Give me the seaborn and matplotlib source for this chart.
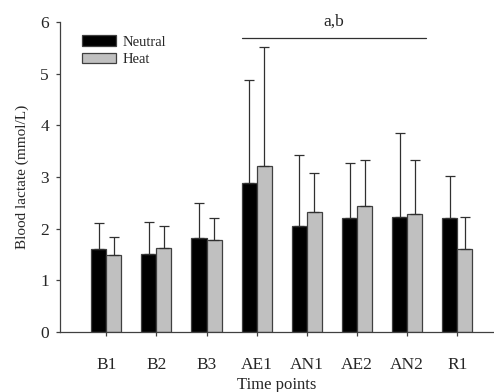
import warnings
warnings.filterwarnings("ignore")
import numpy as np
import pandas as pd
import seaborn as sns
import matplotlib
matplotlib.use("Agg")
import matplotlib.pyplot as plt
from matplotlib.patches import Patch

time_points = ['B1', 'B2', 'B3', 'AE1', 'AN1', 'AE2', 'AN2', 'R1']
neutral_mean = [1.61, 1.51, 1.81, 2.88, 2.06, 2.20, 2.22, 2.20]
neutral_sd = [0.50, 0.61, 0.68, 2.00, 1.37, 1.07, 1.63, 0.82]
heat_mean = [1.49, 1.62, 1.79, 3.22, 2.33, 2.43, 2.28, 1.61]
heat_sd = [0.34, 0.43, 0.41, 2.30, 0.75, 0.90, 1.04, 0.61]
conditions = ['Neutral', 'Heat']

df = pd.DataFrame({
    'Time': time_points * 2,
    'Lactate': neutral_mean + heat_mean,
    'SD': neutral_sd + heat_sd,
    'Condition': ['Neutral'] * len(time_points) + ['Heat'] * len(time_points),
})

sns.set_style('ticks')
plt.rcParams['font.family'] = ['Liberation Serif', 'DejaVu Serif']
colors = {'Neutral': '#000000', 'Heat': '#c0c0c0'}

fig = plt.figure(figsize=(4.94, 3.92), dpi=100)
ax = fig.add_axes([0.1215, 0.153, 0.8785, 0.791])
ax = sns.barplot(data=df, x='Time', y='Lactate', hue='Condition', hue_order=conditions,
                 palette=colors, width=0.6, errorbar=None, edgecolor='#404040',
                 linewidth=0.9, legend=False, ax=ax)

# upward-only error bars from the bar patches
for cont, cond in zip(ax.containers, conditions):
    sds = df[df['Condition'] == cond]['SD'].values
    for bar, sd in zip(cont, sds):
        xc = bar.get_x() + bar.get_width() / 2
        h = bar.get_height()
        ax.errorbar(xc, h, yerr=[[0], [sd]], fmt='none', ecolor='#303030',
                    elinewidth=0.9, capsize=3.5, capthick=0.9)

ax.set_ylim(0, 6)
ax.set_xlim(-0.92, 7.73)
ax.set_yticks(range(0, 7))
ax.tick_params(axis='both', labelsize=12.5, width=0.9, color='#404040', length=3)
ax.tick_params(axis='y', pad=5)
ax.tick_params(axis='x', pad=15)
ax.set_xlabel('Time points', fontsize=12, labelpad=3)
ax.set_ylabel('Blood lactate (mmol/L)', fontsize=11, labelpad=8)
for s in ['top', 'right']:
    ax.spines[s].set_visible(False)
for s in ['left', 'bottom']:
    ax.spines[s].set_color('#404040')
    ax.spines[s].set_linewidth(0.9)

# significance bar over AE1..AN2
ax.plot([2.7, 6.37], [5.69, 5.69], color='#303030', lw=0.9)
ax.text(4.53, 6.0, 'a,b', ha='center', va='center', fontsize=12.5, clip_on=False)

handles = [Patch(facecolor=colors[c], edgecolor='#404040', linewidth=0.9) for c in conditions]
ax.legend(handles, conditions, loc='upper left', bbox_to_anchor=(0.03, 0.985), frameon=False,
          fontsize=10.5, handlelength=2.35, handleheight=0.7, handletextpad=0.45,
          labelspacing=0.3, borderaxespad=0.2)

plt.savefig('out.png', dpi=100)
